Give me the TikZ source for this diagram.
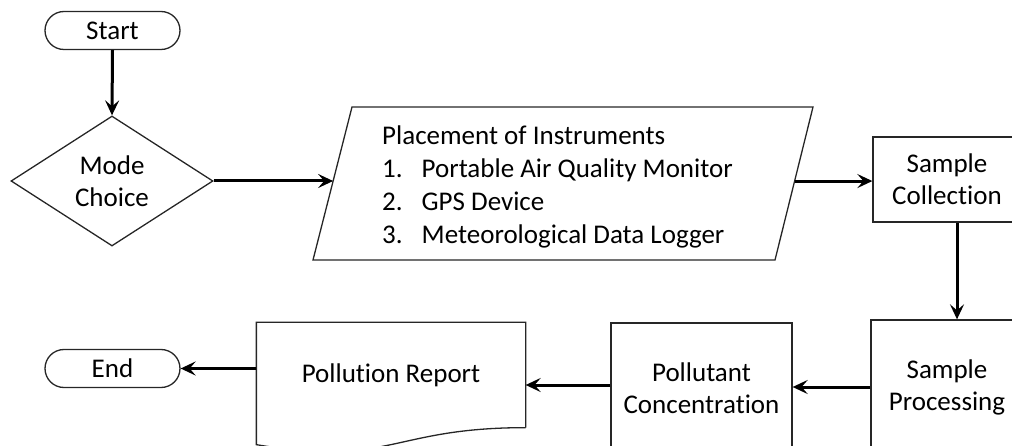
\documentclass[tikz,border=0pt]{standalone}
\usepackage{fontspec}
\setmainfont{Carlito}[Ligatures=NoCommon]
\usetikzlibrary{shapes.geometric,arrows.meta,calc}

\tikzset{
  base/.style={draw=black!85, line width=1.3pt, font=\fontsize{27}{32}\selectfont, align=center, inner sep=0pt},
  term/.style={base, rectangle, rounded corners=19pt, minimum width=135pt, minimum height=38pt},
  procbox/.style={base, rectangle},
  decision/.style={base, diamond, aspect=1.55, minimum width=202pt, minimum height=130pt},
  outline/.style={draw=black!85, line width=1.3pt},
  flow/.style={line width=3pt, -{Stealth[length=15pt,width=14pt,inset=6pt]}}
}

\begin{document}
\begin{tikzpicture}[x=1pt,y=-1pt]
\useasboundingbox (0,0) rectangle (1012,446);
\clip (0,0) rectangle (1012,446);

% terminals and decision
\node[term] (start) at (112.5,30.5) {Start};
\node[decision] (mode) at (112,181) {Mode\\Choice};
\node[term] (end) at (112.5,368.5) {End};

% input/output block (parallelogram)
\coordinate (instTL) at (352,107);
\coordinate (instTR) at (813,107);
\coordinate (instBR) at (775,260);
\coordinate (instBL) at (313,260);
\draw[outline] (instTL) -- (instTR) -- (instBR) -- (instBL) -- cycle;
\coordinate (instIn) at ($(instBL)!0.516!(instTL)$);
\coordinate (instOut) at ($(instBR)!0.516!(instTR)$);
\node[anchor=north west, inner sep=0pt, font=\fontsize{27}{33}\selectfont] (insttext) at (382,121)
  {\begin{tabular}{@{}l@{\hspace{19pt}}l@{}}
     \multicolumn{2}{@{}l@{}}{Placement of Instruments}\\
     1. & Portable Air Quality Monitor\\
     2. & GPS Device\\
     3. & Meteorological Data Logger
   \end{tabular}};

% process boxes
\node[procbox, minimum width=148pt, minimum height=85pt] (coll) at (947,179.5) {Sample\\Collection};
\node[procbox, minimum width=152pt, minimum height=134pt] (proc) at (947,387) {Sample\\Processing};
\node[procbox, minimum width=181pt, minimum height=131pt] (conc) at (701.5,388.5) {Pollutant\\Concentration};

% document shape for the report
\node[base, draw=none, minimum width=268pt, minimum height=104pt] (rep) at (391,375) {Pollution Report};
\draw[outline] (rep.south east) -- (rep.north east) -- (rep.north west)
  -- ($(rep.south west)+(0,17)$)
  .. controls ($(rep.south)+(0,39.6)$) and (rep.south) .. (rep.south east);

% connectors
\draw[flow] (start.south) -- (mode.north);
\draw[flow] (mode.east) -- (mode.east -| instIn);
\draw[flow] (instOut) -- (instOut -| coll.west);
\draw[flow] ([xshift=10pt]coll.south) -- ([xshift=10pt]proc.north);
\draw[flow] (proc.west) -- (proc.west -| conc.east);
\draw[flow] ([yshift=3.5pt]conc.west) -- ([yshift=3.5pt]conc.west -| rep.east);
\draw[flow] (end.east -| rep.west) -- (end.east);
\end{tikzpicture}
\end{document}
